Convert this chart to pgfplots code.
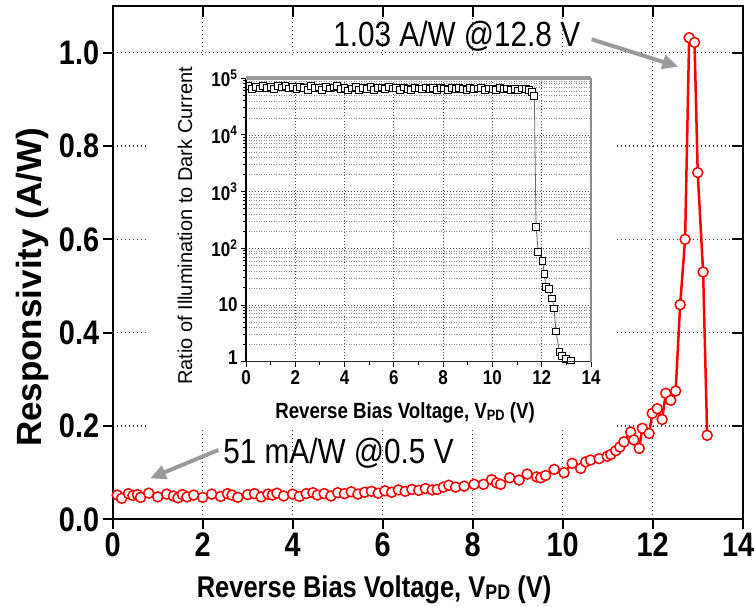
\documentclass[border=0pt]{standalone}
\usepackage{fontspec}
\setmainfont[FakeStretch=0.85]{Liberation Sans}
\newfontfamily\widefont{Liberation Sans}
\usepackage{pgfplots}
\pgfplotsset{compat=1.18}
\usetikzlibrary{arrows.meta}
\definecolor{arrowgray}{HTML}{9A9A9A}
\newcommand{\vpd}[2]{V\raisebox{-#2}{\fontsize{#1}{#1}\selectfont PD}}

\begin{document}
\begin{tikzpicture}[x=1pt,y=1pt]
\useasboundingbox (0,0) rectangle (754,-606);

% main axis: responsivity
\begin{axis}[at={(112.7pt,-519.3pt)}, anchor=south west, scale only axis,
  width=630pt, height=513.3pt, xmin=0, xmax=14, ymin=0, ymax=1.1,
  xtick={0,2,4,6,8,10,12,14}, xticklabels={0,2,4,6,8,10,12,14\kern9pt},
  ytick={0,0.2,0.4,0.6,0.8,1.0}, yticklabels={0.0,0.2,0.4,0.6,0.8,1.0},
  tick align=outside, xtick pos=bottom, ytick pos=left,
  major tick length=10pt, tick style={black, line width=2pt},
  axis line style={black, line width=2.2pt},
  ticklabel style={font=\fontsize{34}{34}\selectfont\bfseries},
  grid=major, major grid style={black!75, line width=1.2pt, dash pattern=on 1.5pt off 2.5pt},
  xlabel={Reverse Bias Voltage, \vpd{21}{2.5pt} (V)},
  xlabel style={font=\fontsize{30}{30}\selectfont\bfseries, at={(axis description cs:0.4148,-0.1523)}, anchor=base},
  ylabel={Responsivity (A/W)},
  ylabel style={font=\widefont\fontsize{35}{35}\selectfont\bfseries, at={(axis description cs:-0.113,0.4516)}, anchor=base},
  clip mode=individual]
\addplot[red, line width=2.5pt, mark=*, mark size=5pt, mark options={draw=red, fill=white, line width=1.5pt}] coordinates {
(0.10,0.052) (0.20,0.045) (0.35,0.055) (0.45,0.051) (0.55,0.053) (0.62,0.047) (0.80,0.056)
(1.00,0.048) (1.20,0.054) (1.35,0.050) (1.45,0.046) (1.55,0.053) (1.65,0.048) (1.80,0.052)
(2.00,0.047) (2.20,0.054) (2.40,0.049) (2.55,0.055) (2.65,0.052) (2.78,0.047) (3.00,0.053)
(3.15,0.055) (3.30,0.048) (3.45,0.054) (3.55,0.052) (3.65,0.056) (3.80,0.050) (4.00,0.054)
(4.15,0.049) (4.30,0.055) (4.45,0.057) (4.55,0.052) (4.70,0.055) (4.85,0.050) (5.00,0.057)
(5.15,0.055) (5.30,0.059) (5.45,0.054) (5.60,0.058) (5.75,0.060) (5.90,0.056) (6.05,0.061)
(6.20,0.058) (6.35,0.063) (6.50,0.060) (6.65,0.064) (6.80,0.062) (6.95,0.066) (7.10,0.063)
(7.21,0.064) (7.35,0.069) (7.47,0.073) (7.62,0.069) (7.81,0.071) (8.03,0.075) (8.24,0.075)
(8.42,0.085) (8.53,0.078) (8.62,0.075) (8.82,0.089) (9.03,0.084) (9.21,0.097) (9.42,0.091)
(9.51,0.089) (9.62,0.094) (9.81,0.107) (10.03,0.100) (10.21,0.120) (10.40,0.109) (10.51,0.123)
(10.62,0.127) (10.81,0.130) (10.99,0.135) (11.07,0.139) (11.18,0.147) (11.27,0.155) (11.36,0.166)
(11.51,0.187) (11.58,0.170) (11.70,0.152) (11.77,0.195) (11.92,0.184) (11.99,0.227) (12.10,0.237)
(12.21,0.214) (12.29,0.270) (12.40,0.255) (12.51,0.275) (12.61,0.46) (12.72,0.60) (12.81,1.032)
(12.93,1.022) (13.00,0.743) (13.12,0.53) (13.21,0.18)};
\end{axis}

% inward ticks on top and right
\begin{axis}[at={(112.7pt,-519.3pt)}, anchor=south west, scale only axis,
  width=630pt, height=513.3pt, xmin=0, xmax=14, ymin=0, ymax=1.1,
  xtick={0,2,4,6,8,10,12,14}, ytick={0,0.2,0.4,0.6,0.8,1.0},
  xticklabels={}, yticklabels={}, tick align=inside, xtick pos=top, ytick pos=right,
  major tick length=11pt, tick style={black, line width=2pt}, axis line style={draw=none}]
\end{axis}

\fill[white] (148,-57) rectangle (617,-428);

% inset: ratio of illumination to dark current
\begin{axis}[at={(246pt,-361.7pt)}, anchor=south west, scale only axis,
  width=345pt, height=283.4pt, xmin=0, xmax=14, ymode=log, ymin=1, ymax=1e5,
  xtick={0,2,4,6,8,10,12,14}, xticklabels={0,2,4,6,8,10,12,14}, minor xtick={1,3,5,7,9,11,13},
  ytick={1,10,100,1000,10000,100000},
  yticklabels={\raisebox{9pt}{1},10,10\textsuperscript{2},10\textsuperscript{3},10\textsuperscript{4},10\textsuperscript{5}},
  minor ytick={2,3,4,5,6,7,8,9,20,30,40,50,60,70,80,90,200,300,400,500,600,700,800,900,2000,3000,4000,5000,6000,7000,8000,9000,20000,30000,40000,50000,60000,70000,80000,90000},
  tick align=outside, xtick pos=bottom, ytick pos=left,
  major tick length=5pt, minor tick length=3pt, tick style={black, line width=1pt},
  ticklabel style={font=\fontsize{20}{20}\selectfont\bfseries},
  xmajorgrids, ymajorgrids, yminorgrids,
  major grid style={black!70, line width=0.9pt, dash pattern=on 1.2pt off 1.8pt},
  minor grid style={black!45, line width=0.7pt, dash pattern=on 1pt off 1.5pt},
  axis line style={draw=none}, clip mode=individual,
  xlabel={Reverse Bias Voltage, \vpd{15}{2pt} (V)},
  xlabel style={font=\fontsize{22}{22}\selectfont\bfseries, at={(axis description cs:0.4609,-0.1997)}, anchor=base},
  ylabel={Ratio of Illumination to Dark Current},
  ylabel style={font=\widefont\fontsize{20}{20}\selectfont, at={(axis description cs:-0.1565,0.4788)}, anchor=base}]
\addplot[black!60, line width=0.8pt, mark=square*, mark size=3.4pt, mark options={draw=black, fill=white, line width=1pt}] coordinates {
(0.10,72000) (0.25,64000) (0.40,70000) (0.55,66000) (0.70,73000) (0.85,68000) (1.00,71000)
(1.15,65000) (1.30,72000) (1.45,69000) (1.60,74000) (1.75,66000) (1.90,70000) (2.05,64000)
(2.20,71000) (2.35,68000) (2.50,63000) (2.65,72000) (2.80,67000) (2.95,69000) (3.10,62000)
(3.25,70000) (3.40,66000) (3.55,69000) (3.70,72000) (3.85,64000) (4.00,68000) (4.15,61000)
(4.30,66000) (4.45,70000) (4.60,63000) (4.75,68000) (4.90,65000) (5.05,71000) (5.20,62000)
(5.35,67000) (5.50,69000) (5.65,64000) (5.80,70000) (5.95,66000) (6.10,68000) (6.25,63000)
(6.40,69000) (6.55,65000) (6.70,62000) (6.85,68000) (7.00,66000) (7.15,64000) (7.30,69000)
(7.45,65000) (7.60,67000) (7.75,63000) (7.90,68000) (8.05,66000) (8.20,62000) (8.35,67000)
(8.50,64000) (8.65,68000) (8.80,65000) (8.95,63000) (9.10,67000) (9.25,64000) (9.40,66000)
(9.55,68000) (9.70,63000) (9.85,66000) (10.00,65000) (10.15,62000) (10.30,67000) (10.45,64000)
(10.60,66000) (10.75,63000) (10.90,65000) (11.05,61000) (11.20,66000) (11.35,64000) (11.50,62000)
(11.60,58000) (11.70,49000) (11.77,240) (11.86,87) (12.03,59) (12.11,35) (12.17,21)
(12.30,19) (12.43,13) (12.50,8.7) (12.58,3.4) (12.72,1.5) (12.81,1.26) (13.00,1.1) (13.20,1.05)};
\draw[black!85, line width=1.5pt] (rel axis cs:0,0) -- (rel axis cs:1,0);
\draw[black, line width=2pt] (rel axis cs:0,0) -- (rel axis cs:0,1);
\draw[black!45, line width=1.2pt] (rel axis cs:1,0) -- (rel axis cs:1,1);
\draw[arrowgray, line width=4pt] (rel axis cs:0,1) -- (rel axis cs:1,1);
\end{axis}

% annotations
\draw[arrowgray, line width=4pt, -{Triangle[length=16pt,width=14pt]}] (591.7,-39.3) -- (678.3,-66.7);
\draw[arrowgray, line width=4pt, -{Triangle[length=16pt,width=14pt]}] (218.3,-450) -- (150,-478.3);
\node[anchor=base, font=\fontsize{35}{35}\selectfont] at (456.7,-46.7) {1.03 A/W @12.8 V};
\node[anchor=base, font=\fontsize{35}{35}\selectfont] at (338.5,-463.3) {51 mA/W @0.5 V};
\end{tikzpicture}
\end{document}
